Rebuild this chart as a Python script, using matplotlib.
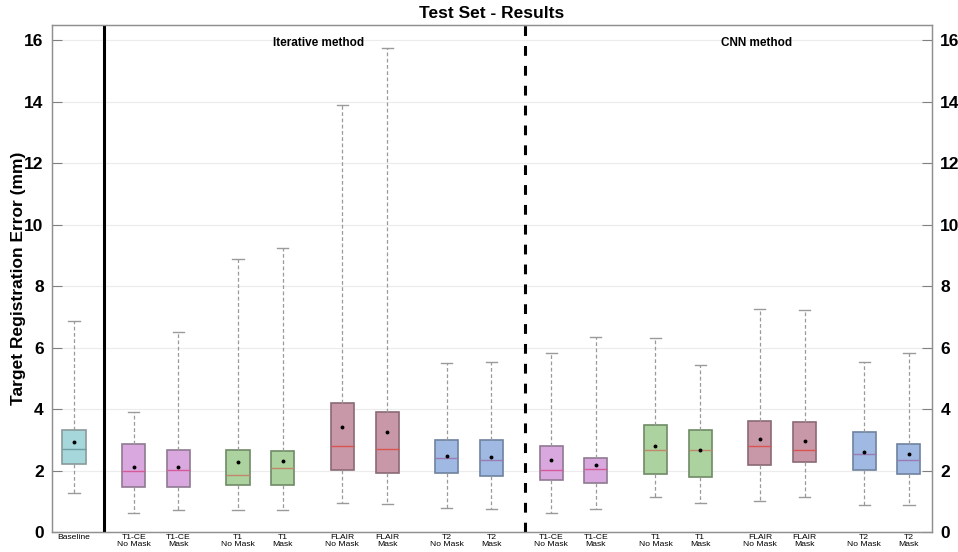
import numpy as np
import matplotlib
matplotlib.use("Agg")
import matplotlib.pyplot as plt

plt.rcParams['font.family'] = ['Liberation Sans', 'DejaVu Sans']

# box statistics (mm): lower whisker, q1, median, q3, upper whisker, mean
labels = ['Baseline',
          'T1-CE\nNo Mask', 'T1-CE\nMask', 'T1\nNo Mask', 'T1\nMask',
          'FLAIR\nNo Mask', 'FLAIR\nMask', 'T2\nNo Mask', 'T2\nMask',
          'T1-CE\nNo Mask', 'T1-CE\nMask', 'T1\nNo Mask', 'T1\nMask',
          'FLAIR\nNo Mask', 'FLAIR\nMask', 'T2\nNo Mask', 'T2\nMask']
whislo = [1.26, 0.63, 0.72, 0.72, 0.72, 0.93, 0.90, 0.78, 0.75,
          0.61, 0.75, 1.13, 0.94, 1.00, 1.14, 0.87, 0.88]
q1 = [2.20, 1.45, 1.45, 1.52, 1.52, 2.01, 1.91, 1.91, 1.81,
      1.69, 1.59, 1.88, 1.78, 2.18, 2.27, 2.02, 1.88]
med = [2.69, 1.97, 2.01, 1.84, 2.07, 2.79, 2.69, 2.40, 2.33,
       2.01, 2.04, 2.68, 2.66, 2.79, 2.66, 2.54, 2.33]
q3 = [3.32, 2.86, 2.66, 2.66, 2.64, 4.20, 3.91, 2.98, 3.01,
      2.81, 2.40, 3.48, 3.33, 3.62, 3.57, 3.25, 2.85]
whishi = [6.88, 3.90, 6.50, 8.87, 9.23, 13.91, 15.74, 5.49, 5.54,
          5.84, 6.34, 6.30, 5.42, 7.26, 7.21, 5.54, 5.82]
means = [2.93, 2.12, 2.10, 2.28, 2.30, 3.41, 3.24, 2.48, 2.44,
         2.33, 2.17, 2.79, 2.66, 3.03, 2.97, 2.61, 2.54]

positions = [0, 4, 7, 11, 14, 18, 21, 25, 28,
             32, 35, 39, 42, 46, 49, 53, 56]

# one colour per sequence
face = {'base': '#a6d7da', 't1ce': '#d9a8de', 't1': '#acd29f',
        'flair': '#c998a8', 't2': '#a0b9e2'}
median_col = {'base': '#6f9ea3', 't1ce': '#d55a98', 't1': '#c0876a',
              'flair': '#d9534f', 't2': '#9a7bb3'}
edge_col = {'base': '#8a9a9c', 't1ce': '#8f7a92', 't1': '#6f8a66',
            'flair': '#8a6a74', 't2': '#6f82a0'}
groups = ['base'] + ['t1ce', 't1ce', 't1', 't1', 'flair', 'flair', 't2', 't2'] * 2

stats = []
for i in range(len(labels)):
    stats.append(dict(whislo=whislo[i], q1=q1[i], med=med[i], q3=q3[i],
                      whishi=whishi[i], mean=means[i], fliers=[]))

fig = plt.figure(figsize=(9.58, 5.52), dpi=100)
ax = fig.add_axes([0.0543, 0.0362, 0.9186, 0.9185])

bp = ax.bxp(stats, positions=positions, widths=1.55, patch_artist=True,
            showmeans=True, meanline=False, manage_ticks=False,
            whiskerprops=dict(color='#9a9a9a', linestyle=(0, (3, 2)), linewidth=0.9),
            capprops=dict(color='#9a9a9a', linewidth=1.0),
            meanprops=dict(marker='o', markerfacecolor='black',
                           markeredgecolor='black', markersize=1.8),
            capwidths=0.75)

for k, g in enumerate(groups):
    bp['boxes'][k].set_facecolor(face[g])
    bp['boxes'][k].set_edgecolor(edge_col[g])
    bp['boxes'][k].set_linewidth(1.2)
    bp['medians'][k].set_color(median_col[g])
    bp['medians'][k].set_linewidth(1.0)

# separators between baseline / iterative / CNN
ax.axvline(2.0, color='black', linewidth=2.2, zorder=5)
ax.axvline(30.25, color='black', linewidth=2.2, dashes=(3.2, 3.3), zorder=5)

ax.text(16.4, 15.93, 'Iterative method', ha='center', va='center',
        fontsize=8.5, fontweight='bold')
ax.text(45.8, 15.93, 'CNN method', ha='center', va='center',
        fontsize=8.5, fontweight='bold')

ax.set_xlim(-1.475, 57.55)
ax.set_ylim(0, 16.5)
ax.set_yticks(np.arange(0, 17, 2))
ax.yaxis.grid(True, color='#ececec', linewidth=0.8)
ax.set_axisbelow(True)
ax.set_xticks(positions)
ax.set_xticklabels(labels, fontsize=6.1, linespacing=0.95)
ax.tick_params(axis='x', length=0, pad=1.5)
ax.tick_params(axis='y', direction='in', length=7, color='#808080',
               labelsize=12.5, width=0.8, pad=6)
for lab in ax.get_yticklabels():
    lab.set_fontweight('bold')
for s in ax.spines.values():
    s.set_color('#909090')
    s.set_linewidth(0.9)

ax2 = ax.twinx()
ax2.set_ylim(ax.get_ylim())
ax2.set_yticks(np.arange(0, 17, 2))
ax2.tick_params(axis='y', direction='in', length=7, color='#808080',
                labelsize=12.5, width=0.8, pad=6)
for lab in ax2.get_yticklabels():
    lab.set_fontweight('bold')
for s in ax2.spines.values():
    s.set_color('#909090')
    s.set_linewidth(0.9)

ax.set_ylabel('Target Registration Error (mm)', fontsize=12.5,
              fontweight='bold')
ax.yaxis.set_label_coords(-0.030, 0.5)
ax.set_title('Test Set - Results', fontsize=12.5, fontweight='bold', pad=5)

fig.savefig('out.png', dpi=100)
